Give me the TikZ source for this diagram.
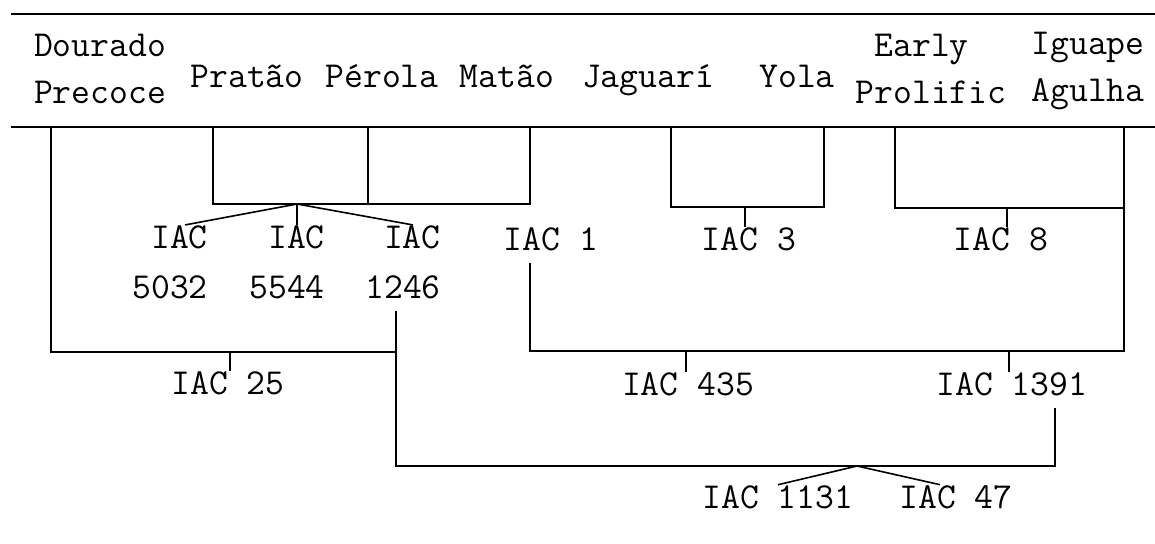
\documentclass[tikz,border=0pt]{standalone}
\usepackage{tikz}
\usetikzlibrary{positioning, calc}

\tikzstyle{cultivar} = [font=\ttfamily\fontsize{18.3}{23.5}\selectfont, inner sep=0pt, align=center]
\tikzstyle{selecao} = [font=\ttfamily\fontsize{18.3}{25}\selectfont, inner sep=0pt, align=right]
\tikzstyle{regua} = [line width=1.2pt]
\tikzstyle{ramo} = [line width=1pt]
\tikzstyle{leque} = [line width=0.8pt]

\begin{document}
\begin{tikzpicture}[x=0.5pt, y=-0.5pt]
  \useasboundingbox (0,0) rectangle (1155,543);

  % Reguas do cabecalho
  \draw[regua] (11,14) -- (1155,14);
  \draw[regua] (11,127) -- (1155,127);

  % Cultivares
  \node[cultivar] (dp) at (100,69) {Dourado\\Precoce};
  \node[cultivar, anchor=base] (pratao) at (247,87) {Pratão};
  \node[cultivar, anchor=base] (perola) at (382,87) {Pérola};
  \node[cultivar, anchor=base] (matao) at (507,87) {Matão};
  \node[cultivar, anchor=base] (jaguari) at (648,87) {Jaguarí};
  \node[cultivar, anchor=base] (yola) at (797,87) {Yola};
  \node[cultivar, align=left] (ep) at (931,69) {\hphantom{x}Early\\Prolific};
  \node[cultivar] (ia) at (1088,71) {Iguape\\Agulha};

  % Selecoes IAC
  \node[selecao] (iac5032) at (170,262) {IAC\\5032};
  \node[selecao] (iac5544) at (287,262) {IAC\\5544};
  \node[selecao] (iac1246) at (403,262) {IAC\\1246};
  \node[selecao, anchor=base] (iac1) at (551,250) {IAC 1};
  \node[selecao, anchor=base] (iac3) at (749,250) {IAC 3};
  \node[selecao, anchor=base] (iac8) at (1001,250) {IAC 8};
  \node[selecao, anchor=base] (iac25) at (228,394) {IAC 25};
  \node[selecao, anchor=base] (iac435) at (688,395) {IAC 435};
  \node[selecao, anchor=base] (iac1391) at (1012,395) {IAC 1391};
  \node[selecao, anchor=base] (iac1131) at (778,508) {IAC 1131};
  \node[selecao, anchor=base] (iac47) at (956,508) {IAC 47};

  % Topo das linhas
  \coordinate (dp-t) at (51,127);
  \coordinate (pr-t) at (213,127);
  \coordinate (pe-t) at (368,127);
  \coordinate (ma-t) at (530,127);
  \coordinate (ja-t) at (671,127);
  \coordinate (yo-t) at (824,127);
  \coordinate (ep-t) at (895,127);
  \coordinate (ia-t) at (1124,127);

  % Juncoes
  \coordinate (j1) at (297,204);
  \coordinate (j3) at (745,207);
  \coordinate (j8) at (1007,208);
  \coordinate (j25) at (230,352);
  \coordinate (j435) at (686,351);
  \coordinate (j1391) at (1009,351);
  \coordinate (j47) at (857,466);
  \coordinate (c1246) at ($(iac1246.south)+(-7,12)$);
  \coordinate (c1391) at ($(iac1391.south)+(43,12)$);

  % Primeiros cruzamentos
  \draw[ramo] (pr-t) |- (ma-t |- j1) -- (ma-t);
  \draw[ramo] (pe-t) -- (pe-t |- j1);
  \draw[leque] (j1) -- ([xshift=7.5pt]iac5032.north);
  \draw[leque] (j1) -- (j1 |- iac5544.north);
  \draw[leque] (j1) -- ([xshift=5pt]iac1246.north);

  \draw[ramo] (ja-t) |- (yo-t |- j3) -- (yo-t);
  \draw[ramo] (j3) -- (j3 |- iac3.north);
  \draw[ramo] (ep-t) |- (ia-t |- j8);
  \draw[ramo] (j8) -- (j8 |- iac8.north);

  % Segunda geracao
  \draw[ramo] ($(ma-t |- iac1.south)+(0,12)$) |- (ia-t |- j435) -- (ia-t);
  \draw[ramo] (j435) -- (j435 |- iac435.north);
  \draw[ramo] (j1391) -- (j1391 |- iac1391.north);
  \draw[ramo] (dp-t) |- (c1246 |- j25);
  \draw[ramo] (j25) -- (j25 |- iac25.north);

  % Cruzamento final
  \draw[ramo] (c1246) |- (c1391 |- j47) -- (c1391);
  \draw[leque] (j47) -- (iac1131.north);
  \draw[leque] (j47) -- ([xshift=-8pt]iac47.north);

\end{tikzpicture}
\end{document}
